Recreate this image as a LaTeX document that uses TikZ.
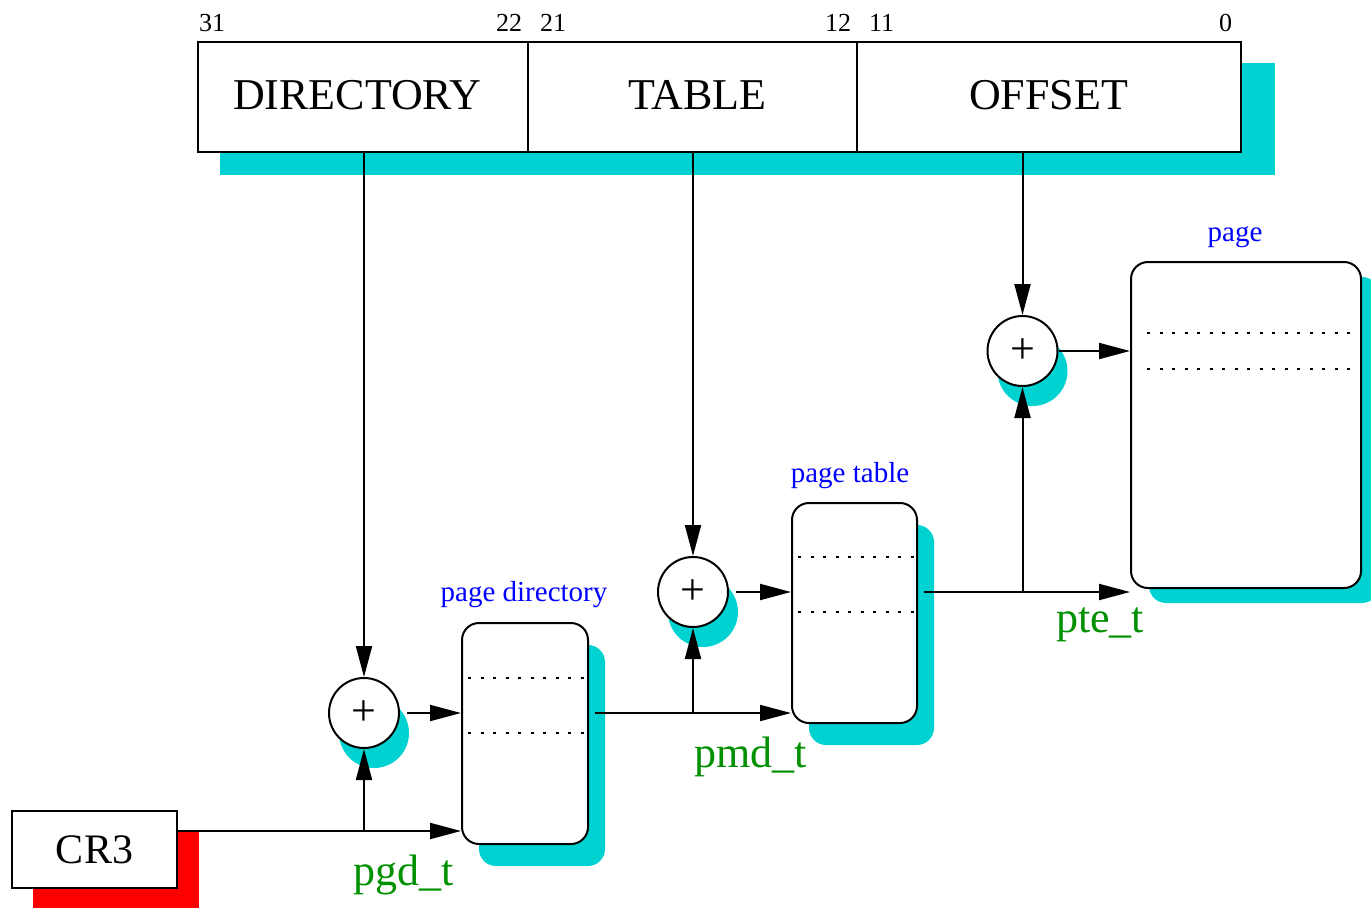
\documentclass[tikz,border=0pt]{standalone}
\usepackage{fontspec}
\setmainfont{Liberation Serif}
\usetikzlibrary{arrows.meta,shadows,calc}
\definecolor{shcyan}{RGB}{0,209,209}
\definecolor{lblgreen}{RGB}{0,144,0}
\definecolor{lblblue}{RGB}{0,0,255}
\definecolor{shred}{RGB}{255,0,0}
\begin{document}
\begin{tikzpicture}[x=1pt,y=-1pt,
  line width=2pt,
  field/.style={draw, fill=white, minimum height=110pt, inner sep=0pt},
  bigtext/.style={font=\fontsize{44}{44}\selectfont, inner sep=0pt, anchor=base west},
  bitnum/.style={font=\fontsize{26}{26}\selectfont, inner sep=0pt},
  adder/.style={circle, draw, fill=white, minimum size=70pt, inner sep=0pt,
    font=\fontsize{44}{44}\selectfont,
    drop shadow={shadow xshift=10pt, shadow yshift=-20pt, opacity=1, fill=shcyan}},
  memblock/.style={draw, fill=white, rounded corners=17pt, inner sep=0pt},
  blulabel/.style={text=lblblue, font=\fontsize{29}{29}\selectfont, inner sep=0pt, anchor=base},
  grnlabel/.style={text=lblgreen, font=\fontsize{44}{44}\selectfont, inner sep=0pt, anchor=base west},
  arr/.style={-{Triangle[length=31pt,width=16pt]}},
  dotrow/.style={line width=2pt, dash pattern=on 3pt off 9.5pt},
]
\useasboundingbox (0,0) rectangle (1371,908);

% address register
\fill[shcyan] (220,63) rectangle (1275,175);
\node[field, minimum width=330pt] (dir) at (363,97) {};
\node[field, minimum width=329pt] (tab) at (692.5,97) {};
\node[field, minimum width=384pt] (off) at (1049,97) {};
\node[bigtext] (dirtxt) at (232,109) {DIRECTORY};
\node[bigtext] (tabtxt) at (627,109) {TABLE};
\node[bigtext] (offtxt) at (968,109) {OFFSET};

\node[bitnum, anchor=base west] (b31) at (198,31) {31};
\node[bitnum, anchor=base east] (b22) at (523,31) {22};
\node[bitnum, anchor=base west] (b21) at (539,31) {21};
\node[bitnum, anchor=base east] (b12) at (852,31) {12};
\node[bitnum, anchor=base west] (b11) at (868,31) {11};
\node[bitnum, anchor=base east] (b0) at (1233,31) {0};

% CR3
\fill[shred] (33,832) rectangle (199,908);
\node[draw, fill=white, minimum width=165pt, minimum height=77pt, inner sep=0pt,
  font=\fontsize{42}{42}\selectfont] (cr3) at (94.5,849.5) {CR3};

% adders
\node[adder] (c1) at (364,713) {+};
\node[adder] (c2) at (693,592) {+};
\node[adder] (c3) at (1022.5,351) {+};

% memory blocks
\node[memblock, minimum width=126pt, minimum height=221pt,
  drop shadow={shadow xshift=17pt, shadow yshift=-22pt, opacity=1, fill=shcyan}] (pd) at (525,733.5) {};
\node[memblock, minimum width=125pt, minimum height=220pt,
  drop shadow={shadow xshift=17pt, shadow yshift=-22pt, opacity=1, fill=shcyan}] (pt) at (854.5,613) {};
\node[memblock, minimum width=230pt, minimum height=326pt,
  drop shadow={shadow xshift=18pt, shadow yshift=-15pt, opacity=1, fill=shcyan}] (pg) at (1246,425) {};

\draw[dotrow] ($(pd.north west)+(7,56)$) -- ($(pd.north east)+(0,56)$);
\draw[dotrow] ($(pd.north west)+(7,111)$) -- ($(pd.north east)+(0,111)$);
\draw[dotrow] ($(pt.north west)+(7,55)$) -- ($(pt.north east)+(0,55)$);
\draw[dotrow] ($(pt.north west)+(7,110)$) -- ($(pt.north east)+(0,110)$);
\draw[dotrow] ($(pg.north west)+(17,72)$) -- ($(pg.north east)+(0,72)$);
\draw[dotrow] ($(pg.north west)+(17,108)$) -- ($(pg.north east)+(0,108)$);

% labels
\node[blulabel] (pdlab) at (524,601) {page directory};
\node[blulabel] (ptlab) at (850,482) {page table};
\node[blulabel] (pglab) at (1235,241) {page};
\node[grnlabel] (pgdlab) at (352,885) {pgd\_t};
\node[grnlabel] (pmdlab) at (693,767) {pmd\_t};
\node[grnlabel] (ptelab) at (1055,632) {pte\_t};

% connectors
\draw[arr] (c1.north |- dir.south) -- (c1.north);
\draw[arr] (c2.north |- tab.south) -- (c2.north);
\draw[arr] (c3.north |- off.south) -- (c3.north);

\coordinate (cr3out) at ($(cr3.north east)+(0,21)$);
\draw[arr] (cr3out) -- (pd.west |- cr3out);
\draw[arr] (c1.south |- cr3out) -- (c1.south);
\draw[arr] ($(c1.east)+(7,0)$) -- (pd.west |- c1.east);

\coordinate (pdout) at ($(pd.east |- c1.east)+(6,0)$);
\draw[arr] (pdout) -- (pt.west |- pdout);
\draw[arr] (c2.south |- pdout) -- (c2.south);
\draw[arr] ($(c2.east)+(7,0)$) -- (pt.west |- c2.east);

\coordinate (ptout) at ($(pt.east |- c2.east)+(6,0)$);
\draw[arr] (ptout) -- (pg.west |- ptout);
\draw[arr] (c3.south |- ptout) -- (c3.south);
\draw[arr] (c3.east) -- (pg.west |- c3.east);
\end{tikzpicture}
\end{document}
